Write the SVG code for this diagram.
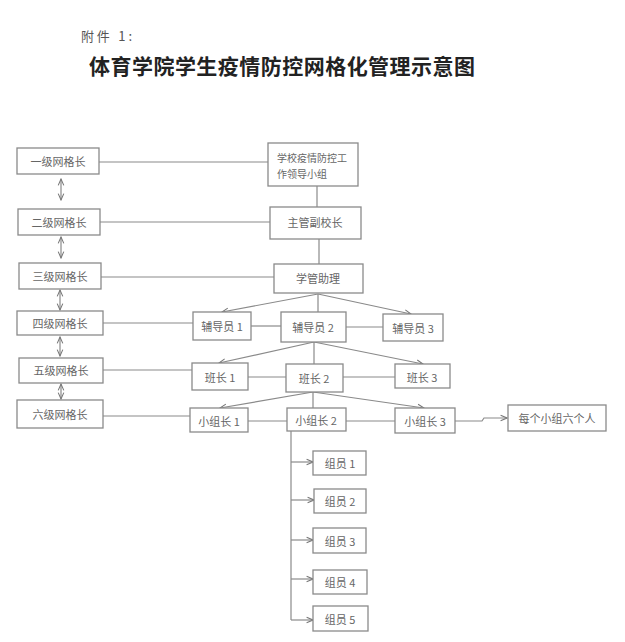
<svg xmlns="http://www.w3.org/2000/svg" width="625" height="642" viewBox="0 0 625 642">
<style>
.bx rect{fill:#fff;stroke:#8a8a8a;stroke-width:1.3}
.bx text{font-family:"Noto Sans CJK SC","Noto Sans",sans-serif;font-size:11px;fill:#666;text-anchor:middle;dominant-baseline:central}
.cn line,.cn polyline{stroke:#8a8a8a;stroke-width:1.2;fill:none}
.ar{marker-end:url(#ah)}
.da{marker-end:url(#ah);marker-start:url(#ah)}
.hd{font-family:"Noto Sans CJK SC","Noto Sans",sans-serif}
</style>
<defs>
<marker id="ah" viewBox="0 0 10 10" refX="9" refY="5" markerWidth="8" markerHeight="8" markerUnits="userSpaceOnUse" orient="auto-start-reverse">
<path d="M1,1.5 L9,5 L1,8.5" fill="none" stroke="#777" stroke-width="1.3"/>
</marker>
</defs>
<rect width="625" height="642" fill="#fff"/>
<text class="hd" x="81" y="41" font-size="13" fill="#555" textLength="51" lengthAdjust="spacing">附件 1:</text>
<text class="hd" x="89" y="74" font-size="21" font-weight="bold" fill="#222" textLength="386" lengthAdjust="spacing">体育学院学生疫情防控网格化管理示意图</text>

<g class="cn" id="connectors">
<line x1="99" y1="162" x2="268" y2="162"/>
<line x1="100" y1="222" x2="270" y2="222"/>
<line x1="101" y1="277" x2="274" y2="277"/>
<line x1="103" y1="323" x2="193" y2="323"/>
<line x1="103" y1="370" x2="192" y2="370"/>
<line x1="103" y1="416" x2="190" y2="416"/>
<line class="da" x1="61" y1="179" x2="61" y2="200"/>
<line class="da" x1="61" y1="237" x2="61" y2="258"/>
<line class="da" x1="60" y1="290" x2="60" y2="310"/>
<line class="da" x1="60" y1="337" x2="60" y2="356"/>
<line class="da" x1="61" y1="384" x2="61" y2="399"/>
<line x1="317" y1="186" x2="317" y2="207"/>
<line x1="319" y1="239" x2="319" y2="264"/>
<line class="ar" x1="318" y1="294" x2="222" y2="312"/>
<line class="ar" x1="318" y1="294" x2="411" y2="314"/>
<line x1="318" y1="294" x2="318" y2="312"/>
<line x1="251" y1="326" x2="281" y2="326"/>
<line x1="346" y1="327" x2="383" y2="327"/>
<line class="ar" x1="314" y1="342" x2="219" y2="363"/>
<line class="ar" x1="314" y1="342" x2="423" y2="364"/>
<line x1="314" y1="342" x2="314" y2="364"/>
<line x1="248" y1="377" x2="286" y2="377"/>
<line x1="343" y1="377" x2="395" y2="377"/>
<line class="ar" x1="313" y1="392" x2="220" y2="408"/>
<line class="ar" x1="313" y1="392" x2="424" y2="408"/>
<line x1="313" y1="392" x2="313" y2="408"/>
<line x1="248" y1="421" x2="287" y2="421"/>
<line x1="346" y1="421" x2="395" y2="421"/>
<polyline class="ar" points="455,421 482,421 484,418 507,418"/>
<line x1="291" y1="431" x2="291" y2="620"/>
<line class="ar" x1="291" y1="462" x2="313" y2="462"/>
<line class="ar" x1="291" y1="500" x2="314" y2="500"/>
<line class="ar" x1="291" y1="540" x2="313" y2="540"/>
<line class="ar" x1="291" y1="579" x2="313" y2="579"/>
<line class="ar" x1="291" y1="620" x2="313" y2="620"/>
</g>

<g class="bx" id="g1"><rect x="17" y="148" width="82" height="26"/><text x="58" y="161">一级网格长</text></g>
<g class="bx" id="g2"><rect x="18" y="209" width="82" height="26"/><text x="59" y="222">二级网格长</text></g>
<g class="bx" id="g3"><rect x="19" y="263" width="82" height="26"/><text x="60" y="276">三级网格长</text></g>
<g class="bx" id="g4"><rect x="17" y="311" width="86" height="24"/><text x="60" y="323">四级网格长</text></g>
<g class="bx" id="g5"><rect x="19" y="358" width="84" height="25"/><text x="61" y="370">五级网格长</text></g>
<g class="bx" id="g6"><rect x="17" y="400" width="86" height="28"/><text x="60" y="414">六级网格长</text></g>

<g class="bx" id="lead"><rect x="268" y="143" width="90" height="43"/>
<text x="277" y="157" style="text-anchor:start;font-size:10px">学校疫情防控工</text>
<text x="277" y="173" style="text-anchor:start;font-size:10px">作领导小组</text></g>
<g class="bx" id="vp"><rect x="270" y="207" width="91" height="32"/><text x="315" y="222">主管副校长</text></g>
<g class="bx" id="asst"><rect x="274" y="264" width="89" height="29"/><text x="318" y="278">学管助理</text></g>

<g class="bx" id="f1"><rect x="193" y="312" width="58" height="28"/><text x="222" y="326">辅导员 1</text></g>
<g class="bx" id="f2"><rect x="281" y="312" width="65" height="30"/><text x="313" y="327">辅导员 2</text></g>
<g class="bx" id="f3"><rect x="383" y="314" width="60" height="27"/><text x="413" y="328">辅导员 3</text></g>

<g class="bx" id="b1"><rect x="192" y="363" width="56" height="27"/><text x="220" y="377">班长 1</text></g>
<g class="bx" id="b2"><rect x="286" y="364" width="57" height="28"/><text x="314" y="378">班长 2</text></g>
<g class="bx" id="b3"><rect x="395" y="364" width="55" height="24"/><text x="422" y="377">班长 3</text></g>

<g class="bx" id="s1"><rect x="190" y="408" width="58" height="24"/><text x="219" y="421">小组长 1</text></g>
<g class="bx" id="s2"><rect x="287" y="408" width="59" height="23"/><text x="316" y="420">小组长 2</text></g>
<g class="bx" id="s3"><rect x="395" y="408" width="60" height="25"/><text x="425" y="421">小组长 3</text></g>

<g class="bx" id="six"><rect x="508" y="405" width="98" height="26"/><text x="557" y="418">每个小组六个人</text></g>

<g class="bx" id="m1"><rect x="313" y="451" width="53" height="24"/><text x="340" y="463">组员 1</text></g>
<g class="bx" id="m2"><rect x="314" y="489" width="52" height="24"/><text x="340" y="501">组员 2</text></g>
<g class="bx" id="m3"><rect x="313" y="528" width="53" height="25"/><text x="340" y="541">组员 3</text></g>
<g class="bx" id="m4"><rect x="313" y="570" width="54" height="24"/><text x="340" y="582">组员 4</text></g>
<g class="bx" id="m5"><rect x="313" y="606" width="55" height="25"/><text x="340" y="619">组员 5</text></g>
</svg>
